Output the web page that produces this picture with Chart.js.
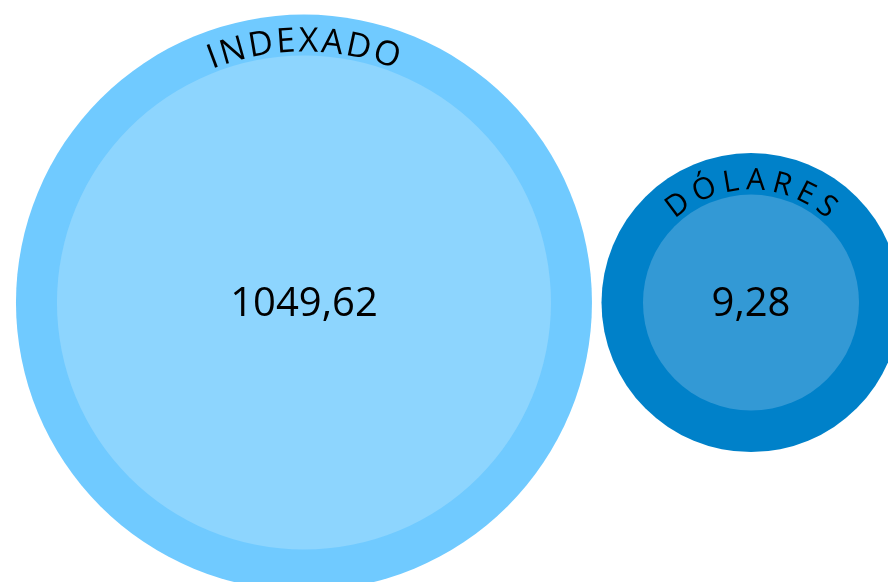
<!DOCTYPE html>
<html>
<head>
<meta charset="utf-8">
<script src="https://cdn.jsdelivr.net/npm/chart.js@4.4.1/dist/chart.umd.min.js"></script>
<style>
  html, body { margin: 0; padding: 0; background: #fff; }
  #wrap { width: 888px; height: 582px; }
</style>
</head>
<body>
<div id="wrap"><canvas id="myChart"></canvas></div>
<script>
"use strict";

// datos
const categorias = ["INDEXADO", "DÓLARES"];
const valores = [1049.62, 9.28];

// estilo
const coloresFuera = ["#70caff", "#0081c9"];
const coloresDentro = ["#8dd5fe", "#3399d5"];
const radioFuera = [288, 149.5];
const radioDentro = [247, 108];
const fuente = "'Open Sans', sans-serif";

// rótulos curvos + valores
const rotulos = {
    id: "rotulos",
    afterDatasetsDraw(chart) {
        const ctx = chart.ctx;
        const meta = chart.getDatasetMeta(1);
        meta.data.forEach((pt, i) => {
            const x = pt.x, y = pt.y;
            const big = i === 0;

            // valor al centro
            ctx.save();
            ctx.fillStyle = "#000";
            ctx.font = "40px " + fuente;
            ctx.textAlign = "center";
            ctx.textBaseline = "middle";
            ctx.fillText(valores[i].toFixed(2).replace(".", ","), x, y + 2);
            ctx.restore();

            // texto en arco
            const texto = categorias[i];
            const r = radioDentro[i] + (big ? 4 : 5);
            const gap = big ? 2.5 : 6;
            ctx.save();
            ctx.fillStyle = "#000";
            ctx.font = (big ? "34px " : "30px ") + fuente;
            const anchos = [...texto].map(c => ctx.measureText(c).width);
            const total = anchos.reduce((a, b) => a + b, 0) + gap * (anchos.length - 1);
            let ang = -total / 2 / r;
            ctx.textAlign = "center";
            ctx.textBaseline = "alphabetic";
            [...texto].forEach((c, k) => {
                const a = ang + anchos[k] / 2 / r;
                ctx.save();
                ctx.translate(x, y);
                ctx.rotate(a);
                ctx.fillText(c, 0, -r);
                ctx.restore();
                ang += (anchos[k] + gap) / r;
            });
            ctx.restore();
        });
    }
};

const puntos = valores.map((v, i) => ({ x: i, y: 0 }));

new Chart(document.getElementById("myChart"), {
    type: "bubble",
    data: {
        labels: categorias,
        datasets: [{
            label: "fuera",
            data: puntos,
            backgroundColor: coloresFuera,
            borderWidth: 0,
            radius: c => radioFuera[c.dataIndex],
            clip: false,
            order: 2
        }, {
            label: "dentro",
            data: puntos,
            backgroundColor: coloresDentro,
            borderWidth: 0,
            radius: c => radioDentro[c.dataIndex],
            clip: false,
            order: 1
        }]
    },
    options: {
        responsive: true,
        maintainAspectRatio: false,
        animation: false,
        events: [],
        layout: { padding: 0, autoPadding: false },
        scales: {
            x: { type: "linear", display: false, min: -0.68, max: 1.3065 },
            y: { type: "linear", display: false, min: -1, max: 1.083 }
        },
        plugins: {
            legend: { display: false },
            tooltip: { enabled: false }
        }
    },
    plugins: [rotulos]
});
</script>
</body>
</html>
